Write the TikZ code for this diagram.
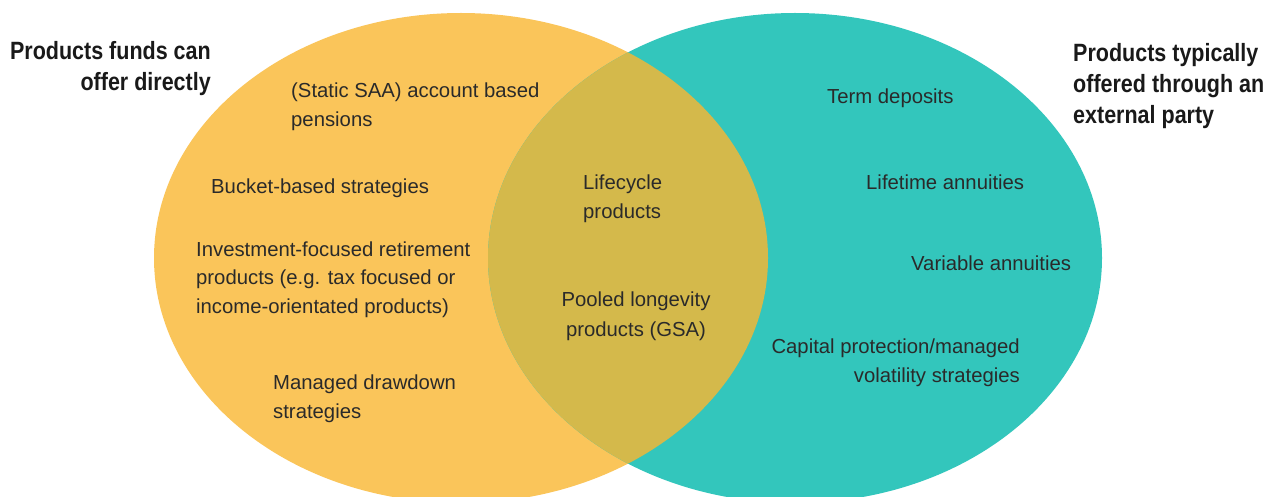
\documentclass[tikz,border=0pt]{standalone}
\usepackage{fontspec}
\setmainfont{Liberation Sans}
\newfontfamily\headfont[FakeStretch=0.86]{Liberation Sans Bold}
\definecolor{fundorange}{HTML}{FAC55A}
\definecolor{extteal}{HTML}{33C6BC}
\definecolor{botholive}{HTML}{D4B94B}
\definecolor{labelgray}{HTML}{2A2A2A}
\tikzset{
  item/.style={inner sep=0pt,text=labelgray,font=\fontsize{20.3}{29}\selectfont},
  heading/.style={inner sep=0pt,text=black!90,font=\headfont\fontsize{25}{31}\selectfont}
}
\begin{document}
\begin{tikzpicture}[x=1pt,y=-1pt]
\useasboundingbox (0,0) rectangle (1278,497);
\clip (0,0) rectangle (1278,497);
\coordinate (lc) at (461,258);
\coordinate (rc) at (795,258);

% the two sets and their overlap
\fill[fundorange] (lc) ellipse [x radius=307, y radius=245];
\fill[extteal] (rc) ellipse [x radius=307, y radius=245];
\begin{scope}
\clip (lc) ellipse [x radius=307, y radius=245];
\fill[botholive] (rc) ellipse [x radius=307, y radius=245];
\end{scope}

% headings (base = last line)
\node[heading,anchor=base east,align=right] (lefthead) at (211,91) {Products funds can\\offer directly};
\node[heading,anchor=base west,align=left] (righthead) at (1073,124) {Products typically\\offered through an\\external party};

% fund products
\node[item,anchor=base west,align=left] (saa) at (291,127) {(Static SAA) account based\\pensions};
\node[item,anchor=base west] (bucket) at (211,194) {Bucket-based strategies};
\node[item,anchor=base west,align=left] (invest) at (196,314) {Investment-focused retirement\\products (e.g. tax focused or\\income-orientated products)};
\node[item,anchor=base west,align=left] (drawdown) at (273,418) {Managed drawdown\\strategies};

% both
\node[item,anchor=base west,align=left] (lifecycle) at (583,219) {Lifecycle\\products};
\node[item,anchor=base,align=center] (pooled) at (636,336) {Pooled longevity\\products (GSA)};

% external products
\node[item,anchor=base west] (term) at (827,104) {Term deposits};
\node[item,anchor=base west] (lifetime) at (866,190) {Lifetime annuities};
\node[item,anchor=base west] (variable) at (911,271) {Variable annuities};
\node[item,anchor=base east,align=right] (capital) at (1020,382) {Capital protection/managed\\volatility strategies};
\end{tikzpicture}
\end{document}
